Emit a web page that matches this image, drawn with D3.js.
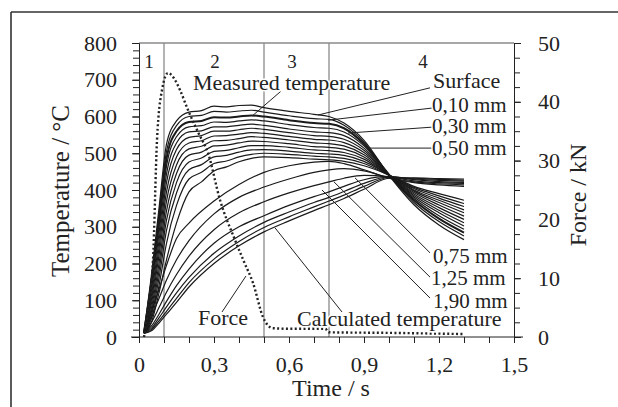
<!DOCTYPE html>
<html>
<head>
<meta charset="utf-8">
<script src="https://d3js.org/d3.v7.min.js"></script>
<style>
  body { margin: 0; background: #fff; }
  svg text { font-family: "Liberation Serif", "DejaVu Serif", serif; fill: #222; }
  .curve { fill: none; stroke: #1a1a1a; stroke-width: 1.2px; }
  .force { fill: none; stroke: #222; stroke-width: 2.4px; stroke-dasharray: 2 2.4; }
  .sep { stroke: #8a8a8a; stroke-width: 1.3px; }
  .leader { stroke: #222; stroke-width: 1px; }
</style>
</head>
<body>
<svg id="chart" width="618" height="407"></svg>
<script>

// ---- data ----
const measuredTimes = [0.02, 0.05, 0.08, 0.11, 0.15, 0.2, 0.25, 0.3, 0.35, 0.4, 0.45, 0.5, 0.6, 0.7, 0.76, 0.82, 0.9, 1.0, 1.1, 1.2, 1.3];

// measured temperature, surface first, then deeper
const measured = [
  [15, 170, 350, 525, 588, 612, 616, 628, 626, 630, 631, 624, 614, 606, 600, 582, 535, 440, 360, 305, 265],
  [14, 160, 335, 505, 575, 600, 603, 614, 612, 615, 617, 612, 602, 594, 592, 576, 530, 441, 366, 314, 275],
  [13, 150, 318, 485, 560, 585, 588, 598, 597, 600, 603, 600, 590, 582, 580, 568, 525, 442, 372, 322, 284],
  [12, 140, 300, 465, 545, 572, 575, 585, 584, 588, 591, 588, 578, 570, 568, 558, 520, 440, 377, 330, 293],
  [12, 128, 282, 443, 528, 558, 561, 572, 572, 576, 579, 576, 566, 558, 556, 548, 514, 441, 381, 338, 302],
  [11, 115, 262, 420, 510, 543, 548, 560, 560, 564, 568, 565, 556, 548, 546, 538, 508, 440, 385, 345, 311],
  [11, 103, 242, 395, 490, 528, 534, 547, 548, 552, 556, 554, 546, 538, 536, 529, 502, 441, 389, 352, 320],
  [10, 92, 222, 370, 468, 512, 519, 534, 535, 540, 545, 543, 536, 528, 526, 520, 496, 440, 393, 359, 329],
  [10, 80, 200, 343, 445, 495, 503, 520, 522, 528, 533, 532, 526, 518, 516, 511, 490, 441, 397, 366, 338],
  [10, 70, 180, 318, 420, 476, 487, 505, 508, 515, 521, 521, 516, 509, 507, 502, 484, 440, 400, 372, 346],
  [10, 60, 160, 290, 392, 455, 469, 490, 494, 503, 509, 510, 506, 500, 498, 494, 478, 441, 404, 378, 355],
  [10, 50, 140, 255, 358, 430, 448, 472, 479, 490, 497, 500, 497, 492, 490, 486, 472, 440, 407, 384, 363],
  [10, 40, 120, 210, 310, 395, 422, 452, 463, 477, 486, 490, 488, 484, 482, 478, 466, 441, 410, 390, 372]
];

// calculated temperature at deeper positions
const calcTimes = [0.02, 0.05, 0.08, 0.11, 0.15, 0.2, 0.3, 0.4, 0.5, 0.6, 0.7, 0.76, 0.82, 0.9, 1.0, 1.1, 1.2, 1.3];
const calculated = [
  [12, 70, 130, 195, 268, 310, 370, 415, 448, 466, 476, 478, 472, 455, 432, 420, 414, 410],
  [11, 55, 105, 155, 210, 262, 335, 380, 408, 430, 448, 455, 458, 452, 434, 422, 417, 414],
  [10, 40, 80, 122, 170, 220, 292, 338, 368, 392, 412, 422, 432, 440, 436, 425, 420, 418],
  [10, 30, 62, 97, 140, 185, 255, 300, 330, 358, 382, 395, 410, 428, 437, 428, 423, 421],
  [10, 24, 52, 82, 120, 162, 228, 275, 312, 340, 366, 380, 396, 418, 436, 430, 426, 424],
  [10, 20, 44, 70, 105, 148, 212, 260, 298, 327, 354, 370, 386, 410, 434, 432, 429, 427],
  [10, 17, 38, 62, 94, 136, 200, 248, 286, 316, 344, 360, 377, 402, 432, 433, 431, 430]
];

// force (kN)
const forceTimes = [0.02, 0.04, 0.056, 0.072, 0.092, 0.116, 0.14, 0.164, 0.196, 0.24, 0.276, 0.324, 0.384, 0.42, 0.456, 0.496, 0.515, 0.535, 0.6, 0.745, 0.76, 1.0, 1.3];
const forceValues = [0, 6, 13, 33.5, 42, 44.9, 44, 42, 38.6, 34.5, 31.3, 23.3, 16.5, 12.8, 9.2, 3.4, 2, 1.5, 1.4, 1.4, 0.8, 0.7, 0.5];

// phase boundaries and names
const phaseBounds = [0.1, 0.5, 0.76];
const phaseNames = ["1", "2", "3", "4"];
const phaseCenters = [0.04, 0.304, 0.612, 1.136];

// ticks
const timeTicks = [0, 0.3, 0.6, 0.9, 1.2, 1.5];
const timeTickLabels = ["0", "0,3", "0,6", "0,9", "1,2", "1,5"];
const tempTicks = [0, 100, 200, 300, 400, 500, 600, 700, 800];
const forceTicks = [0, 10, 20, 30, 40, 50];

// annotations: text, text anchor point (t, T), leader from/to (t, T)
const notes = [
  { text: "Measured temperature", t: 0.216, T: 672, size: 22, lead: [0.568, 669, 0.452, 601] },
  { text: "Surface",   t: 1.176, T: 678, size: 22, lead: [1.164, 678, 0.716, 604] },
  { text: "0,10 mm",   t: 1.172, T: 613, size: 21, lead: [1.172, 623, 0.756, 590] },
  { text: "0,30 mm",   t: 1.172, T: 555, size: 21, lead: [1.172, 571, 0.836, 555] },
  { text: "0,50 mm",   t: 1.172, T: 495, size: 21, lead: [1.172, 514, 0.912, 514] },
  { text: "0,75 mm",   t: 1.176, T: 201, size: 21, lead: [1.164, 229, 0.864, 433] },
  { text: "1,25 mm",   t: 1.168, T: 142, size: 21, lead: [1.164, 163, 0.78, 422] },
  { text: "1,90 mm",   t: 1.176, T: 79,  size: 21, lead: [1.164, 106, 0.732, 400] },
  { text: "Calculated temperature", t: 0.632, T: 30, size: 22, lead: [0.812, 68, 0.544, 297] },
  { text: "Force",     t: 0.236, T: 33,  size: 22, lead: [0.332, 68, 0.428, 166] }
];

// ---- layout ----
const svg = d3.select("#chart");
const plot = { left: 139, right: 514, top: 43, bottom: 337 };

const x = d3.scaleLinear().domain([0, 1.5]).range([plot.left, plot.right]);
const yT = d3.scaleLinear().domain([0, 800]).range([plot.bottom, plot.top]);
const yF = d3.scaleLinear().domain([0, 50]).range([plot.bottom, plot.top]);

// outer frame (only top and left edges show)
svg.append("line").attr("x1", 11).attr("x2", 618).attr("y1", 12).attr("y2", 12)
   .attr("stroke", "#333").attr("stroke-width", 1.6);
svg.append("line").attr("x1", 11).attr("x2", 11).attr("y1", 12).attr("y2", 407)
   .attr("stroke", "#333").attr("stroke-width", 1.6);

// top border of the plot + phase separators
svg.append("line").attr("class", "sep")
   .attr("x1", plot.left).attr("x2", plot.right).attr("y1", plot.top).attr("y2", plot.top);
svg.selectAll("line.phase").data(phaseBounds).join("line").attr("class", "sep phase")
   .attr("x1", d => x(d)).attr("x2", d => x(d))
   .attr("y1", plot.top).attr("y2", plot.bottom);

svg.selectAll("text.phase").data(phaseNames).join("text").attr("class", "phase")
   .attr("x", (d, i) => x(phaseCenters[i])).attr("y", 68)
   .attr("text-anchor", "middle").attr("font-size", 19).text(d => d);

// ---- axes ----
const fontAxis = g => g.attr("font-family", null).attr("font-size", 22)
                       .call(g => g.selectAll("text").attr("fill", "#222"))
                       .call(g => g.selectAll("line,path").attr("stroke", "#222"));

// left axis: minor ticks every 20, labels every 100
svg.append("g").attr("transform", `translate(${plot.left},0)`)
   .call(d3.axisLeft(yT).tickValues(d3.range(0, 801, 20)).tickSize(6).tickSizeOuter(0).tickFormat(""))
   .call(fontAxis);
svg.append("g").attr("transform", `translate(${plot.left},0)`)
   .call(d3.axisLeft(yT).tickValues(tempTicks).tickSize(7).tickPadding(15).tickSizeOuter(0))
   .call(fontAxis);

// right axis
svg.append("g").attr("transform", `translate(${plot.right},0)`)
   .call(d3.axisRight(yF).tickValues(d3.range(0, 50.1, 2.5)).tickSize(6).tickSizeOuter(0).tickFormat(""))
   .call(fontAxis);
svg.append("g").attr("transform", `translate(${plot.right},0)`)
   .call(d3.axisRight(yF).tickValues(forceTicks).tickSize(7).tickPadding(17).tickSizeOuter(0))
   .call(fontAxis);

// bottom axis
svg.append("line").attr("x1", 131).attr("x2", 523).attr("y1", plot.bottom).attr("y2", plot.bottom)
   .attr("stroke", "#222");
svg.append("g").attr("transform", `translate(0,${plot.bottom})`)
   .call(d3.axisBottom(x).tickValues(d3.range(0, 1.51, 0.1)).tickSize(6).tickSizeOuter(0).tickFormat(""))
   .call(fontAxis)
   .call(g => g.select(".domain").remove());
svg.append("g").attr("transform", `translate(0,${plot.bottom})`)
   .call(d3.axisBottom(x).tickValues(timeTicks).tickSize(6).tickPadding(13).tickSizeOuter(0)
           .tickFormat((d, i) => timeTickLabels[i]))
   .call(fontAxis)
   .call(g => g.select(".domain").remove());

// axis titles
svg.append("text").attr("transform", "translate(69,191) rotate(-90)")
   .attr("text-anchor", "middle").attr("font-size", 25).text("Temperature / °C");
svg.append("text").attr("transform", "translate(586,195) rotate(-90)")
   .attr("text-anchor", "middle").attr("font-size", 24).text("Force / kN");
svg.append("text").attr("x", 331).attr("y", 396)
   .attr("text-anchor", "middle").attr("font-size", 24).text("Time / s");

// ---- curves ----
const line = ts => d3.line().x((d, i) => x(ts[i])).y(d => yT(d)).curve(d3.curveMonotoneX);

svg.append("g").selectAll("path").data(calculated).join("path")
   .attr("class", "curve").attr("d", line(calcTimes));

svg.append("g").selectAll("path").data(measured).join("path")
   .attr("class", "curve").attr("d", line(measuredTimes))
   .style("stroke-width", (d, i) => i === 2 ? 2 : null);

const forceLine = d3.line().x((d, i) => x(forceTimes[i])).y(d => yF(d)).curve(d3.curveMonotoneX);
svg.append("path").datum(forceValues).attr("class", "force").attr("d", forceLine);

// ---- annotations ----
svg.append("g").selectAll("line").data(notes).join("line").attr("class", "leader")
   .attr("x1", d => x(d.lead[0])).attr("y1", d => yT(d.lead[1]))
   .attr("x2", d => x(d.lead[2])).attr("y2", d => yT(d.lead[3]));

svg.append("g").selectAll("text").data(notes).join("text")
   .attr("x", d => x(d.t)).attr("y", d => yT(d.T))
   .attr("font-size", d => d.size)
   .attr("stroke", "#fff").attr("stroke-width", 3).attr("paint-order", "stroke")
   .text(d => d.text);

</script>
</body>
</html>
